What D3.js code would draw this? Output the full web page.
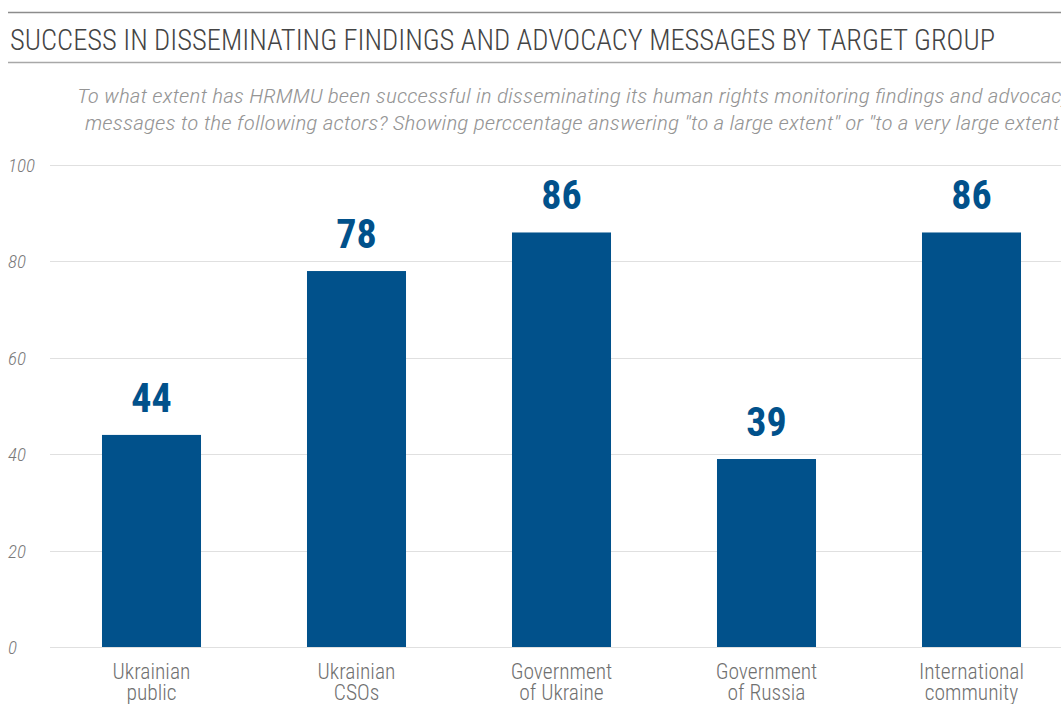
<!DOCTYPE html>
<html>
<head>
<meta charset="utf-8">
<script src="https://cdn.jsdelivr.net/npm/d3@7"></script>
<style>
  html, body { margin: 0; padding: 0; background: #fff; }
  svg { display: block; }
  text { font-family: "Roboto Condensed", Roboto, sans-serif; }
</style>
</head>
<body>
<svg id="chart" width="1061" height="704"></svg>
<script>
const categories = [["Ukrainian", "public"], ["Ukrainian", "CSOs"], ["Government", "of Ukraine"], ["Government", "of Russia"], ["International", "community"]];
const values = [44, 78, 86, 39, 86];
const yTicks = [0, 20, 40, 60, 80, 100];
const title = "SUCCESS IN DISSEMINATING FINDINGS AND ADVOCACY MESSAGES BY TARGET GROUP";
const subtitle = ["To what extent has HRMMU been successful in disseminating its human rights monitoring findings and advocacy",
                  "messages to the following actors? Showing perccentage answering \"to a large extent\" or \"to a very large extent\""];

const W = 1061, H = 704;
const svg = d3.select("#chart");

// header rules
svg.append("line").attr("x1", 8).attr("x2", W).attr("y1", 12.5).attr("y2", 12.5).attr("stroke", "#8c8c8c").attr("stroke-width", 1.5);
svg.append("line").attr("x1", 8).attr("x2", W).attr("y1", 62.5).attr("y2", 62.5).attr("stroke", "#a8a8a8").attr("stroke-width", 1.5);

svg.append("text").attr("x", 10).attr("y", 50).text(title)
  .attr("font-size", 29).attr("font-weight", 300).attr("fill", "#444")
  .attr("textLength", 985).attr("lengthAdjust", "spacingAndGlyphs");

const subX = [77, 85], subLen = [994, 981], subY = [103, 130];
subtitle.forEach((s, i) => {
  svg.append("text").attr("x", subX[i]).attr("y", subY[i]).text(s)
    .attr("font-size", 20.5).attr("font-weight", 300).attr("font-style", "italic").attr("fill", "#959595")
    .attr("textLength", subLen[i]).attr("lengthAdjust", "spacingAndGlyphs");
});

const y = d3.scaleLinear().domain([0, 100]).range([647, 165]);
const x = d3.scaleBand().domain(d3.range(categories.length)).range([49, 1074]).paddingInner(0.517).paddingOuter(0.2585);

// gridlines
svg.append("g").selectAll("line").data(yTicks).join("line")
  .attr("x1", 50).attr("x2", W)
  .attr("y1", d => Math.round(y(d)) + 0.5).attr("y2", d => Math.round(y(d)) + 0.5)
  .attr("stroke", "#e0e0e0").attr("stroke-width", 1);

// y tick labels
svg.append("g").selectAll("text").data(yTicks).join("text")
  .attr("x", 8).attr("y", d => y(d) + 7).text(d => d)
  .attr("font-size", 19).attr("font-weight", 300).attr("font-style", "italic").attr("fill", "#7a7a7a");

// bars
svg.append("g").selectAll("rect").data(values).join("rect")
  .attr("x", (d, i) => x(i)).attr("width", x.bandwidth())
  .attr("y", d => y(d)).attr("height", d => y(0) - y(d))
  .attr("fill", "#01518b");

// value labels
svg.append("g").selectAll("text").data(values).join("text")
  .attr("x", (d, i) => x(i) + x.bandwidth() / 2).attr("y", d => y(d) - 23)
  .attr("text-anchor", "middle").text(d => d)
  .attr("font-size", 40).attr("font-weight", 700).attr("fill", "#01518b");

// x labels
const xl = svg.append("g");
categories.forEach((c, i) => {
  c.forEach((line, j) => {
    xl.append("text").attr("x", x(i) + x.bandwidth() / 2).attr("y", 679 + j * 21)
      .attr("text-anchor", "middle").text(line)
      .attr("font-size", 21.5).attr("font-weight", 300).attr("fill", "#707070");
  });
});
</script>
</body>
</html>
